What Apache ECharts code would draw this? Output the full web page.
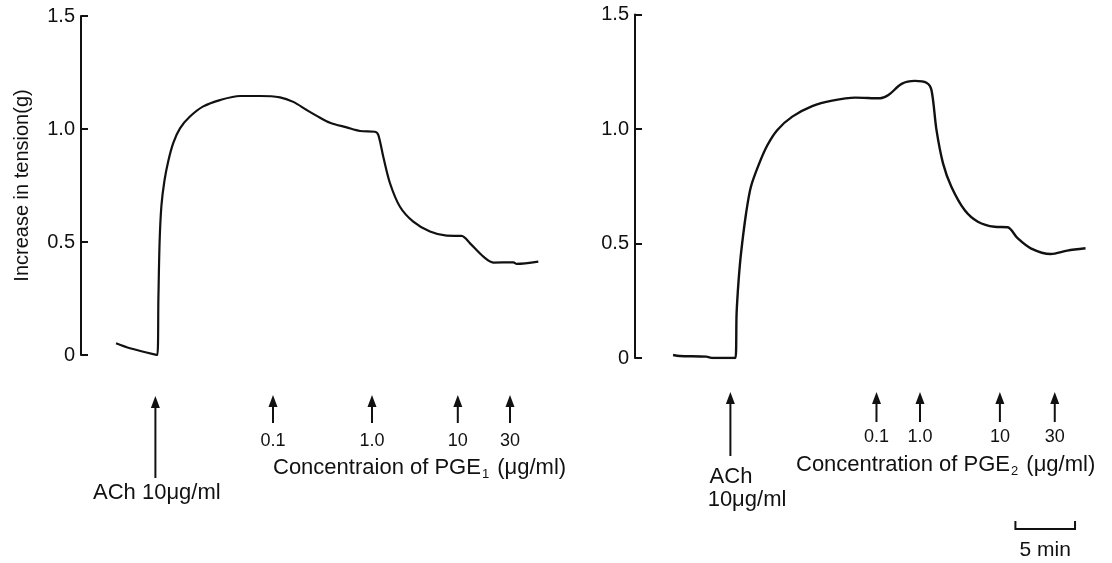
<!DOCTYPE html>
<html>
<head>
<meta charset="utf-8">
<script src="https://cdn.jsdelivr.net/npm/echarts@6/dist/echarts.min.js"></script>
<style>html,body{margin:0;padding:0;background:#fff}#c{width:1112px;height:563px}</style>
</head>
<body>
<div id="c"></div>
<script>
// time in minutes (12 px per minute), tension in g
const leftT = [2.92, 4.08, 6.36, 6.45, 6.55, 6.7, 6.95, 7.28, 7.7, 8.25, 9.08, 10.19, 11.58, 13.25, 14.92, 16.58, 17.69, 18.81, 19.92, 20.75, 22.14, 23.25, 24.5, 24.78, 25.19, 25.75, 26.58, 27.69, 29.08, 30.47, 31.72, 32.42, 33.53, 34.36, 36.03, 36.31, 38.11];
const leftV = [0.052, 0.030, 0.0, 0.25, 0.5, 0.66, 0.77, 0.86, 0.94, 1.003, 1.055, 1.10, 1.128, 1.146, 1.146, 1.14, 1.12, 1.084, 1.05, 1.028, 1.007, 0.991, 0.988, 0.973, 0.877, 0.76, 0.656, 0.59, 0.546, 0.528, 0.527, 0.494, 0.435, 0.409, 0.41, 0.403, 0.413];
const rightT = [3.19, 3.75, 5.97, 6.53, 8.42, 8.52, 8.69, 8.89, 9.31, 9.72, 10.42, 11.11, 11.94, 13.19, 14.86, 16.53, 18.47, 20.56, 21.25, 22.36, 23.47, 24.44, 24.86, 25.28, 25.83, 26.53, 27.64, 28.75, 30.14, 31.25, 32.08, 33.19, 34.86, 36.25, 37.78];
const rightV = [0.013, 0.009, 0.006, 0.0, 0.0, 0.195, 0.34, 0.457, 0.63, 0.748, 0.85, 0.93, 0.996, 1.054, 1.10, 1.124, 1.137, 1.134, 1.148, 1.197, 1.21, 1.202, 1.17, 0.996, 0.85, 0.748, 0.646, 0.595, 0.573, 0.571, 0.523, 0.479, 0.454, 0.469, 0.479];
const yTicks = [0, 0.5, 1.0, 1.5];
const yTickLabels = ['0', '0.5', '1.0', '1.5'];
const doseLabels = ['0.1', '1.0', '10', '30'];
const leftDoseT = [16.0, 24.25, 31.4, 35.75];
const rightDoseT = [20.25, 23.9, 30.6, 35.2];
const leftAChT = 6.2;
const rightAChT = 8.0;
const scaleBarT = [31.9, 36.9];
const yLabel = 'Increase in tension(g)';

const FONT = '"Liberation Sans", Arial, Helvetica, sans-serif';
const chart = echarts.init(document.getElementById('c'), null, {renderer: 'canvas'});

function yAxisCfg(idx, withName) {
  return {
    type: 'value', gridIndex: idx, min: 0, max: 1.5, interval: 0.5,
    axisLine: {show: true, lineStyle: {color: '#111', width: 2}},
    axisTick: {show: true, inside: true, length: 7, lineStyle: {color: '#111', width: 2}},
    splitLine: {show: false},
    axisLabel: {
      margin: 6, fontSize: 20, color: '#111', fontFamily: FONT,
      formatter: v => { const i = yTicks.indexOf(+v.toFixed(2)); return i >= 0 ? yTickLabels[i] : ''; }
    },
    name: withName ? yLabel : '',
    nameLocation: 'middle', nameRotate: 90, nameGap: 49,
    nameTextStyle: {fontSize: 20, color: '#111', fontFamily: FONT}
  };
}
function xAxisCfg(idx) {
  return {type: 'value', gridIndex: idx, min: 0, max: 40, show: false};
}
function pairs(t, v) { return t.map((x, i) => [x, v[i]]); }

chart.setOption({
  animation: false,
  backgroundColor: '#fff',
  grid: [
    {left: 81, top: 16, width: 480, height: 339},
    {left: 635, top: 14.5, width: 480, height: 343.5}
  ],
  xAxis: [xAxisCfg(0), xAxisCfg(1)],
  yAxis: [yAxisCfg(0, true), yAxisCfg(1, false)],
  series: [
    {type: 'line', xAxisIndex: 0, yAxisIndex: 0, data: pairs(leftT, leftV), showSymbol: false,
     smooth: 0.3, lineStyle: {color: '#111', width: 2.2}},
    {type: 'line', xAxisIndex: 1, yAxisIndex: 1, data: pairs(rightT, rightV), showSymbol: false,
     smooth: 0.3, lineStyle: {color: '#111', width: 2.4}}
  ]
});

function px(grid, t) { return chart.convertToPixel({gridIndex: grid}, [t, 0])[0]; }
function arrow(x, yTop, yBot) {
  return [
    {type: 'line', shape: {x1: x, y1: yTop + 8, x2: x, y2: yBot}, style: {stroke: '#111', lineWidth: 2}},
    {type: 'polygon', shape: {points: [[x, yTop], [x - 4.5, yTop + 12], [x + 4.5, yTop + 12]]}, style: {fill: '#111'}}
  ];
}
function text(str, x, y, align, size) {
  return {type: 'text', x: x, y: y, style: {text: str, fill: '#111', font: size + 'px ' + FONT, textAlign: align, textVerticalAlign: 'middle'}};
}
function richText(base, sub, tail, x, y) {
  return {type: 'text', x: x, y: y, style: {
    text: '{a|' + base + '}{s|' + sub + '}{a|' + tail + '}',
    textVerticalAlign: 'middle', textAlign: 'left',
    rich: {
      a: {fontSize: 22, fontFamily: FONT, fill: '#111', color: '#111', lineHeight: 26, verticalAlign: 'middle'},
      s: {fontSize: 13, fontFamily: FONT, fill: '#111', color: '#111', lineHeight: 26, verticalAlign: 'bottom', padding: [7, 2, 0, 1]}
    }
  }};
}

const g = [];
// Left panel annotations
g.push(...arrow(px(0, leftAChT), 396, 478));
leftDoseT.forEach((t, i) => {
  const x = px(0, t);
  g.push(...arrow(x, 395, 423));
  g.push(text(doseLabels[i], x, 441, 'center', 18));
});
g.push(text('ACh 10\u03bcg/ml', 93, 493, 'left', 22));
g.push(richText('Concentraion of PGE', '1', ' (\u03bcg/ml)', 273, 468));
// Right panel annotations
g.push(...arrow(px(1, rightAChT), 392, 456));
rightDoseT.forEach((t, i) => {
  const x = px(1, t);
  g.push(...arrow(x, 392, 422));
  g.push(text(doseLabels[i], x, 437, 'center', 18));
});
g.push(text('ACh', 731, 477, 'center', 22));
g.push(text('10\u03bcg/ml', 747, 500, 'center', 22));
g.push(richText('Concentration of PGE', '2', ' (\u03bcg/ml)', 796, 465));
// scale bar
const sb0 = px(1, scaleBarT[0]), sb1 = px(1, scaleBarT[1]);
g.push({type: 'polyline', shape: {points: [[sb0, 521], [sb0, 529], [sb1, 529], [sb1, 521]]}, style: {stroke: '#111', lineWidth: 2, fill: null}});
g.push(text('5 min', (sb0 + sb1) / 2, 550, 'center', 21));

chart.setOption({graphic: g});
</script>
</body>
</html>
